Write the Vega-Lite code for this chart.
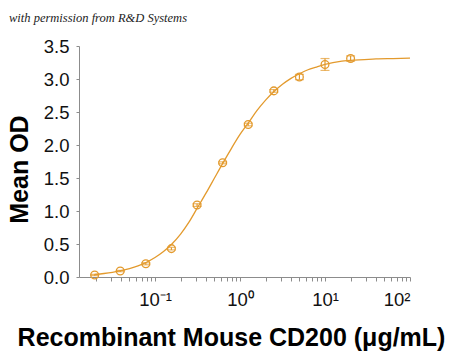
{
  "$schema": "https://vega.github.io/schema/vega-lite/v6.json",
  "autosize": {"type": "none"},
  "width": 331,
  "height": 231,
  "padding": {"left": 79, "top": 46, "right": 40, "bottom": 76},
  "background": "white",
  "title": {
    "text": "with permission from R&D Systems",
    "anchor": "start",
    "frame": "group",
    "dx": -70,
    "offset": 3,
    "baseline": "alphabetic",
    "font": "Liberation Serif",
    "fontStyle": "italic",
    "fontWeight": "normal",
    "fontSize": 12.5,
    "color": "#222222"
  },
  "config": {
    "view": {"stroke": null},
    "axis": {
      "grid": false,
      "domainColor": "#8c8c8c",
      "tickColor": "#8c8c8c",
      "labelFont": "Liberation Sans",
      "labelFontSize": 18.5,
      "labelColor": "#111111",
      "titleFont": "Liberation Sans",
      "titleFontWeight": "bold",
      "titleFontSize": 25,
      "titleColor": "#000000"
    }
  },
  "datasets": {
    "points": [
      {"conc": 0.0195, "od": 0.03, "lo": 0.02, "hi": 0.04},
      {"conc": 0.039, "od": 0.09, "lo": 0.08, "hi": 0.10},
      {"conc": 0.078, "od": 0.20, "lo": 0.185, "hi": 0.215},
      {"conc": 0.156, "od": 0.43, "lo": 0.41, "hi": 0.45},
      {"conc": 0.3125, "od": 1.09, "lo": 1.07, "hi": 1.11},
      {"conc": 0.625, "od": 1.73, "lo": 1.715, "hi": 1.745},
      {"conc": 1.25, "od": 2.31, "lo": 2.29, "hi": 2.33},
      {"conc": 2.5, "od": 2.82, "lo": 2.80, "hi": 2.84},
      {"conc": 5, "od": 3.03, "lo": 2.99, "hi": 3.07},
      {"conc": 10, "od": 3.22, "lo": 3.13, "hi": 3.31},
      {"conc": 20, "od": 3.31, "lo": 3.27, "hi": 3.35}
    ],
    "curve": [
      {"conc": 0.0195, "od": 0.038},
      {"conc": 0.0251, "od": 0.053},
      {"conc": 0.0316, "od": 0.071},
      {"conc": 0.0398, "od": 0.095},
      {"conc": 0.0501, "od": 0.127},
      {"conc": 0.0631, "od": 0.168},
      {"conc": 0.0794, "od": 0.223},
      {"conc": 0.1, "od": 0.295},
      {"conc": 0.126, "od": 0.385},
      {"conc": 0.158, "od": 0.50},
      {"conc": 0.2, "od": 0.65},
      {"conc": 0.251, "od": 0.83},
      {"conc": 0.316, "od": 1.05},
      {"conc": 0.398, "od": 1.27},
      {"conc": 0.501, "od": 1.50},
      {"conc": 0.631, "od": 1.73},
      {"conc": 0.794, "od": 1.95},
      {"conc": 1.0, "od": 2.16},
      {"conc": 1.26, "od": 2.34},
      {"conc": 1.58, "od": 2.52},
      {"conc": 2.0, "od": 2.68},
      {"conc": 2.51, "od": 2.81},
      {"conc": 3.16, "od": 2.92},
      {"conc": 3.98, "od": 3.01},
      {"conc": 5.01, "od": 3.08},
      {"conc": 6.31, "od": 3.14},
      {"conc": 7.94, "od": 3.18},
      {"conc": 10, "od": 3.22},
      {"conc": 15.8, "od": 3.27},
      {"conc": 25.1, "od": 3.29},
      {"conc": 39.8, "od": 3.305},
      {"conc": 63.1, "od": 3.31},
      {"conc": 100, "od": 3.315}
    ]
  },
  "encoding": {
    "x": {
      "field": "conc",
      "type": "quantitative",
      "scale": {"type": "log", "domain": [0.01276, 100], "nice": false},
      "axis": {
        "title": "Recombinant Mouse CD200 (μg/mL)",
        "titleX": 152,
        "titleY": 68,
        "titleBaseline": "alphabetic",
        "titleAlign": "center",
        "tickSize": 4,
        "labelPadding": 9,
        "values": [0.02, 0.03, 0.04, 0.05, 0.06, 0.07, 0.08, 0.09, 0.1, 0.2, 0.3, 0.4, 0.5, 0.6, 0.7, 0.8, 0.9, 1, 2, 3, 4, 5, 6, 7, 8, 9, 10, 20, 30, 40, 50, 60, 70, 80, 90, 100],
        "labelExpr": "datum.value == 0.1 ? '10⁻¹' : datum.value == 1 ? '10⁰' : datum.value == 10 ? '10¹' : datum.value == 100 ? '10²' : ''"
      }
    },
    "y": {
      "field": "od",
      "type": "quantitative",
      "scale": {"domain": [0, 3.5], "nice": false},
      "axis": {
        "title": "Mean OD",
        "titleX": -52,
        "titleY": 123,
        "titleAngle": 270,
        "titleAlign": "center",
        "titleBaseline": "alphabetic",
        "values": [0, 0.5, 1, 1.5, 2, 2.5, 3, 3.5],
        "format": ".1f",
        "tickSize": 3,
        "labelPadding": 7
      }
    }
  },
  "layer": [
    {
      "data": {"name": "curve"},
      "mark": {"type": "line", "color": "#E39A2D", "strokeWidth": 1.3, "interpolate": "monotone"}
    },
    {
      "data": {"name": "points"},
      "mark": {"type": "rule", "color": "#E39A2D", "strokeWidth": 1.2},
      "encoding": {"y": {"field": "lo", "type": "quantitative"}, "y2": {"field": "hi"}}
    },
    {
      "data": {"name": "points"},
      "mark": {"type": "tick", "orient": "horizontal", "color": "#E39A2D", "size": 9, "thickness": 1.2},
      "encoding": {"y": {"field": "lo", "type": "quantitative"}}
    },
    {
      "data": {"name": "points"},
      "mark": {"type": "tick", "orient": "horizontal", "color": "#E39A2D", "size": 9, "thickness": 1.2},
      "encoding": {"y": {"field": "hi", "type": "quantitative"}}
    },
    {
      "data": {"name": "points"},
      "mark": {"type": "point", "shape": "circle", "filled": false, "color": "#E39A2D", "size": 60, "strokeWidth": 1.3, "opacity": 1}
    }
  ]
}
